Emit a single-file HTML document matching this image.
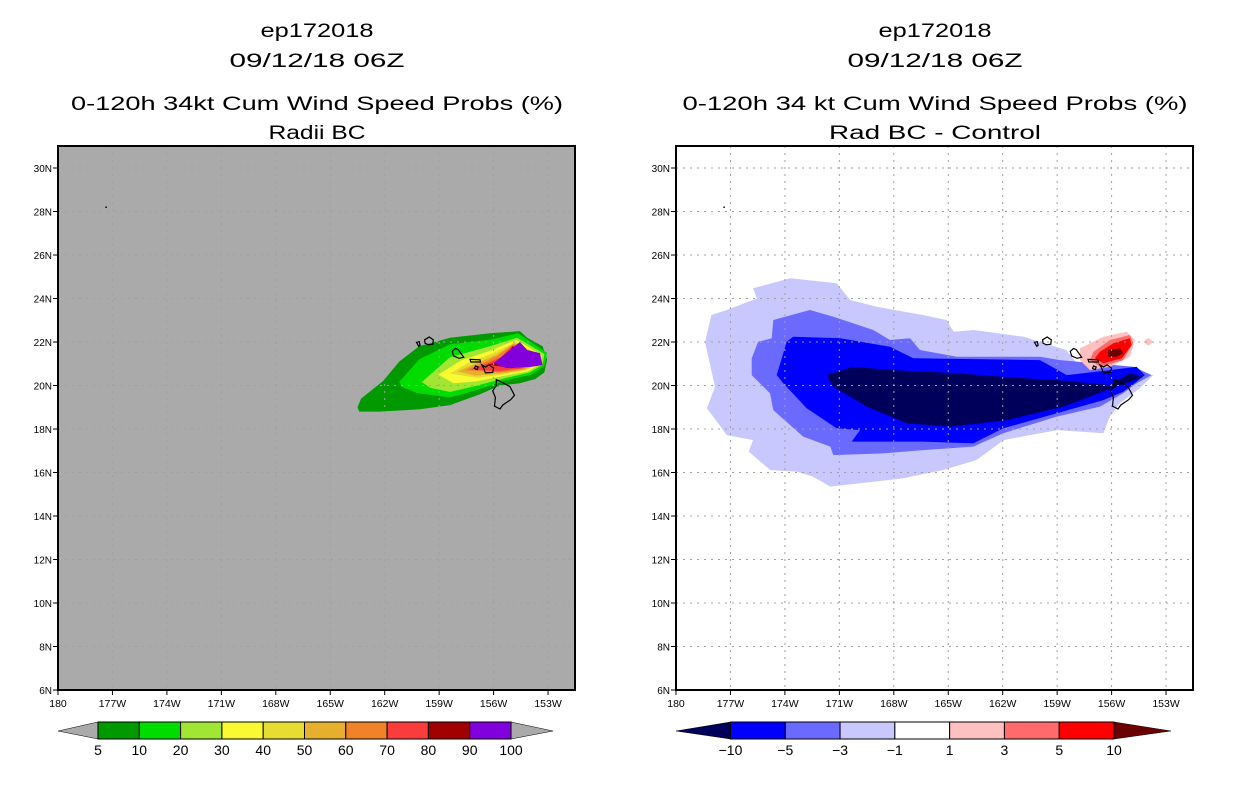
<!DOCTYPE html>
<html><head><meta charset="utf-8"><style>
html,body{margin:0;padding:0;background:#fff;}
svg{display:block;font-family:"Liberation Sans",sans-serif;}
</style></head><body>
<svg id="fig" width="1236" height="800" viewBox="0 0 1236 800" xmlns="http://www.w3.org/2000/svg"></svg>
<script>
// ---- data (lon in degrees West, lat in degrees North) ----
const lonTicks = [180,177,174,171,168,165,162,159,156,153];
const latTicks = [6,8,10,12,14,16,18,20,22,24,26,28,30];
const probLevels = [5,10,20,30,40,50,60,70,80,90,100];
const probColors = ["#009900","#00dc00","#a0e632","#fafa32","#e6dc32","#e6af2d","#f08228","#fa3c3c","#a00000","#8200dc"];
const diffLevels = ["-10","-5","-3","-1","1","3","5","10"];
const diffColors = ["#00005a","#0000ff","#6a6aff","#c8c8ff","#ffffff","#ffc0c0","#ff6a6a","#ff0000","#6a0000"];

const prob5 = [[163.5,19.0],[163.3,19.4],[162.1,20.2],[161.2,21.1],[160.1,21.8],[158.4,22.2],[156.2,22.4],[154.55,22.5],[154.15,22.2],[153.3,21.8],[153.05,21.2],[153.2,20.6],[153.7,20.3],[154.55,20.1],[155.65,20.0],[156.75,19.6],[158.4,19.1],[160.1,18.9],[162.3,18.8],[163.4,18.8]];
const prob10 = [[161.2,20.16],[160.1,21.2],[158.4,21.9],[156.2,22.1],[154.65,22.4],[153.05,21.5],[153.2,20.9],[153.9,20.5],[155.3,20.25],[156.9,19.8],[158.4,19.45],[160.2,19.65],[161.05,19.93]];
const prob20 = [[159.95,20.16],[158.4,21.3],[156.2,21.8],[154.7,22.2],[153.2,21.45],[153.3,20.95],[154.0,20.6],[155.3,20.35],[156.9,20.0],[158.4,19.7],[159.5,19.9]];
const prob30 = [[159.05,20.5],[157.8,21.15],[156.2,21.6],[154.75,22.1],[153.35,21.4],[153.4,21.0],[154.1,20.65],[155.4,20.45],[156.9,20.2],[158.2,20.1]];
const prob40 = [[158.4,20.55],[157.4,21.05],[156.0,21.5],[154.8,22.0],[153.45,21.4],[153.5,21.0],[154.2,20.7],[155.5,20.5],[156.9,20.35]];
const prob50 = [[158.0,20.65],[157.0,21.0],[155.9,21.4],[154.85,21.95],[153.55,21.35],[153.6,21.0],[154.3,20.72],[155.6,20.55],[157.0,20.45]];
const prob60 = [[157.6,20.7],[156.7,21.0],[155.8,21.35],[154.9,21.9],[153.65,21.3],[153.7,21.0],[154.4,20.75],[155.7,20.6]];
const prob70 = [[157.3,20.75],[156.4,21.0],[155.6,21.3],[154.95,21.85],[153.75,21.25],[153.8,21.0],[154.5,20.78],[155.8,20.65]];
const prob80 = [[156.3,20.95],[155.4,21.2],[154.95,21.8],[153.85,21.2],[153.9,20.95],[155.0,20.8]];
const prob90 = [[156.0,21.03],[154.55,22.0],[154.15,21.63],[153.45,21.49],[153.3,20.94],[154.0,20.85],[155.3,20.8]];

const diffM1 = [[178.4,22.0],[178.05,23.24],[177.2,23.47],[175.55,24.0],[175.75,24.47],[173.7,24.93],[171.15,24.7],[170.4,23.93],[168.95,23.62],[166.4,23.24],[165.1,23.01],[164.7,22.47],[163.6,22.55],[160.85,22.24],[158.5,21.63],[157.9,21.02],[156.3,20.71],[153.7,20.48],[154.45,19.87],[155.55,19.18],[156.1,18.57],[156.45,17.8],[159.0,17.95],[161.95,17.49],[163.45,16.57],[165.3,16.11],[167.5,15.73],[171.5,15.35],[172.45,15.81],[173.35,16.04],[174.8,16.11],[176.0,16.96],[175.75,17.49],[177.2,17.72],[177.95,18.57],[178.3,18.95],[177.85,19.94]];
const diffM3 = [[175.83,21.25],[175.47,22.01],[174.73,22.17],[174.64,23.01],[172.62,23.47],[171.33,23.16],[169.13,22.55],[168.21,22.09],[167.1,22.17],[166.56,21.63],[164.53,21.32],[159.94,21.32],[158.84,21.17],[154.8,20.86],[153.79,20.48],[154.62,20.1],[155.36,19.64],[156.64,19.03],[159.02,18.57],[161.97,17.8],[163.62,17.19],[166.37,17.03],[168.58,16.88],[171.33,16.8],[171.5,17.19],[172.99,17.65],[174.64,18.87],[174.82,19.64],[175.83,20.48]];
const diffM5 = [[174.45,20.48],[173.9,22.01],[173.54,22.24],[170.96,22.17],[168.21,21.78],[166.93,21.25],[159.94,21.17],[158.47,20.48],[156.09,20.71],[154.62,20.86],[154.17,20.48],[154.62,20.17],[155.36,19.71],[156.46,19.33],[159.02,18.72],[161.97,18.03],[163.62,17.34],[166.37,17.42],[169.68,17.42],[170.32,17.42],[169.86,17.95],[171.15,18.03],[172.8,18.95],[174.09,20.1]];
const diffM10 = [[171.7,20.48],[170.23,20.86],[168.03,20.71],[164.53,20.56],[160.87,20.33],[159.02,20.25],[156.09,20.02],[154.99,20.57],[154.27,20.39],[155.93,19.89],[158.66,19.03],[161.78,18.41],[164.9,18.11],[167.29,18.26],[169.49,19.03],[171.33,19.94]];
const diffP1 = [[157.74,21.71],[156.46,22.24],[155.17,22.47],[154.71,22.09],[154.99,21.32],[156.09,20.86],[157.19,20.71],[157.74,21.17]];
const diffP1b = [[154.25,22.01],[153.98,22.2],[153.71,22.01],[153.98,21.82]];
const diffP3 = [[157.0,21.55],[156.09,22.09],[154.99,22.32],[154.82,21.94],[155.36,21.17],[156.64,20.86],[157.19,21.17]];
const diffP5 = [[156.64,21.55],[155.9,21.94],[154.99,22.17],[154.9,21.86],[155.44,21.25],[156.46,21.02],[156.92,21.25]];
const diffP10 = [[156.2,21.63],[155.54,21.71],[155.36,21.48],[155.72,21.32],[156.2,21.32]];

const islandHawaii = [[155.85,20.27],[155.55,20.15],[155.1,19.95],[154.85,19.55],[155.05,19.35],[155.5,19.1],[155.65,18.92],[155.95,19.05],[155.9,19.45],[156.05,19.75],[155.85,20.0]];
const islandMaui = [[156.65,20.95],[156.45,20.85],[156.25,20.95],[156.0,20.8],[156.05,20.6],[156.45,20.58],[156.55,20.8]];
const islandMolokai = [[157.3,21.2],[156.75,21.18],[156.72,21.08],[157.25,21.08]];
const islandLanai = [[157.0,20.9],[156.85,20.85],[156.9,20.73],[157.05,20.78]];
const islandOahu = [[158.28,21.57],[158.1,21.7],[157.95,21.65],[157.65,21.3],[157.9,21.25],[158.2,21.35]];
const islandKauai = [[159.8,22.1],[159.55,22.23],[159.32,22.1],[159.35,21.9],[159.6,21.87],[159.78,21.95]];
const islandNiihau = [[160.25,21.98],[160.1,22.02],[160.05,21.85],[160.12,21.8]];
const islandMidway = [[177.4,28.2],[177.3,28.2]];

const NS = "http://www.w3.org/2000/svg";
const svg = document.getElementById("fig");
const PXLON = 18.15, PXLAT = 21.75;
function mk(tag, attrs, parent){ const e=document.createElementNS(NS,tag); for(const k in attrs) e.setAttribute(k,attrs[k]); (parent||svg).appendChild(e); return e; }
function panelX(p, w){ return p.x0 + (180 - w) * PXLON; }
function panelY(p, lat){ return p.y1 - (lat - 6) * PXLAT; }
function pts(p, arr){ return arr.map(d => panelX(p,d[0]).toFixed(1)+","+panelY(p,d[1]).toFixed(1)).join(" "); }

const L = {x0:58, y0:146, x1:575, y1:690, cx:317};
const R = {x0:676, y0:146, x1:1193, y1:690, cx:935};

function titles(p, lines, key){
  const ys=[37,67,110,139];
  lines.forEach((t,i)=>{
    const e=mk("text",{x:p.cx,y:ys[i],"text-anchor":"middle","font-size":19,fill:"#000",textLength:t[1],lengthAdjust:"spacingAndGlyphs"});
    e.textContent=t[0];
    
    
  });
}

function axes(p, key){
  const g=mk("g",{});
  
  
  lonTicks.forEach(w=>{
    const x=panelX(p,w);
    mk("line",{x1:x,y1:p.y1,x2:x,y2:p.y1+5,stroke:"#000","stroke-width":1},g);
    const t=mk("text",{x:x,y:p.y1+17,"text-anchor":"middle","font-size":10.5,fill:"#000"},g);
    t.textContent = w===180 ? "180" : w+"W";
    
    
  });
  latTicks.forEach(lat=>{
    const y=panelY(p,lat);
    mk("line",{x1:p.x0-5,y1:y,x2:p.x0,y2:y,stroke:"#000","stroke-width":1},g);
    const t=mk("text",{x:p.x0-6,y:y+4,"text-anchor":"end","font-size":10,fill:"#000"},g);
    t.textContent = lat+"N";
    
    
  });
}

function grid(p, key, color){
  const g=mk("g",{});
  
  
  lonTicks.forEach(w=>{ if(w===180) return; const x=panelX(p,w);
    mk("line",{x1:x,y1:p.y0,x2:x,y2:p.y1,stroke:color,"stroke-width":1,"stroke-dasharray":"2,5"},g); });
  latTicks.forEach(lat=>{ if(lat===6) return; const y=panelY(p,lat);
    mk("line",{x1:p.x0,y1:y,x2:p.x1,y2:y,stroke:color,"stroke-width":1,"stroke-dasharray":"2,5"},g); });
}

function islands(p, key){
  const g=mk("g",{});
  
  
  [islandHawaii,islandMaui,islandMolokai,islandLanai,islandOahu,islandKauai,islandNiihau].forEach(a=>{
    mk("polygon",{points:pts(p,a),fill:"none",stroke:"#000","stroke-width":1.2},g);
  });
  mk("polyline",{points:pts(p,islandMidway),fill:"none",stroke:"#000","stroke-width":1.2},g);
}

// ---- Left panel ----
titles(L, [["ep172018",113],["09/12/18 06Z",175],["0-120h 34kt Cum Wind Speed Probs (%)",492],["Radii BC",97]], "left");
const lbg=mk("rect",{x:L.x0,y:L.y0,width:L.x1-L.x0,height:L.y1-L.y0,fill:"#aaaaaa"});


[prob5,prob10,prob20,prob30,prob40,prob50,prob60,prob70,prob80,prob90].forEach((poly,i)=>{
  const e=mk("polygon",{points:pts(L,poly),fill:probColors[i]});
  
  
});
grid(L,"left","#a0a0a0");
islands(L,"left");
const lf=mk("rect",{x:L.x0,y:L.y0,width:L.x1-L.x0,height:L.y1-L.y0,fill:"none",stroke:"#000","stroke-width":2});


axes(L,"left");

// ---- Right panel ----
titles(R, [["ep172018",113],["09/12/18 06Z",175],["0-120h 34 kt Cum Wind Speed Probs (%)",505],["Rad BC - Control",212]], "right");
const rbg=mk("rect",{x:R.x0,y:R.y0,width:R.x1-R.x0,height:R.y1-R.y0,fill:"#ffffff"});


[[diffM1,3],[diffM3,2],[diffM5,1],[diffM10,0],[diffP1,5],[diffP1b,5],[diffP3,6],[diffP5,7],[diffP10,8]].forEach(d=>{
  const e=mk("polygon",{points:pts(R,d[0]),fill:diffColors[d[1]]});
  
  
});
grid(R,"right","#a0a0a0");
islands(R,"right");
const rf=mk("rect",{x:R.x0,y:R.y0,width:R.x1-R.x0,height:R.y1-R.y0,fill:"none",stroke:"#000","stroke-width":2});


axes(R,"right");

// ---- Colorbars ----
function colorbar(key, tipL, bx0, bx1, tipR, colors, labels, leftTip, rightTip){
  const g=mk("g",{});
  
  
  const y0=722, y1=739, ym=731;
  const n=colors.length, w=(bx1-bx0)/n;
  mk("polygon",{points:`${tipL},${ym} ${bx0},${y0} ${bx0},${y1}`,fill:leftTip,stroke:"#000","stroke-width":0.5},g);
  mk("polygon",{points:`${tipR},${ym} ${bx1},${y0} ${bx1},${y1}`,fill:rightTip,stroke:"#000","stroke-width":0.5},g);
  colors.forEach((c,i)=>{
    const r=mk("rect",{x:bx0+i*w,y:y0,width:w,height:y1-y0,fill:c,stroke:"#000","stroke-width":1},g);
    
    
  });
  labels.forEach((l,i)=>{
    const t=mk("text",{x:bx0+i*w,y:755,"text-anchor":"middle","font-size":14,fill:"#000"},g);
    t.textContent=String(l).replace("-","\u2212");
    
    
  });
}
colorbar("left",58,98,511,553,probColors,probLevels,"#aaaaaa","#aaaaaa");
colorbar("right",676,730.5,1114,1171,diffColors.slice(1,8),diffLevels,diffColors[0],diffColors[8]);
</script>
</body></html>
